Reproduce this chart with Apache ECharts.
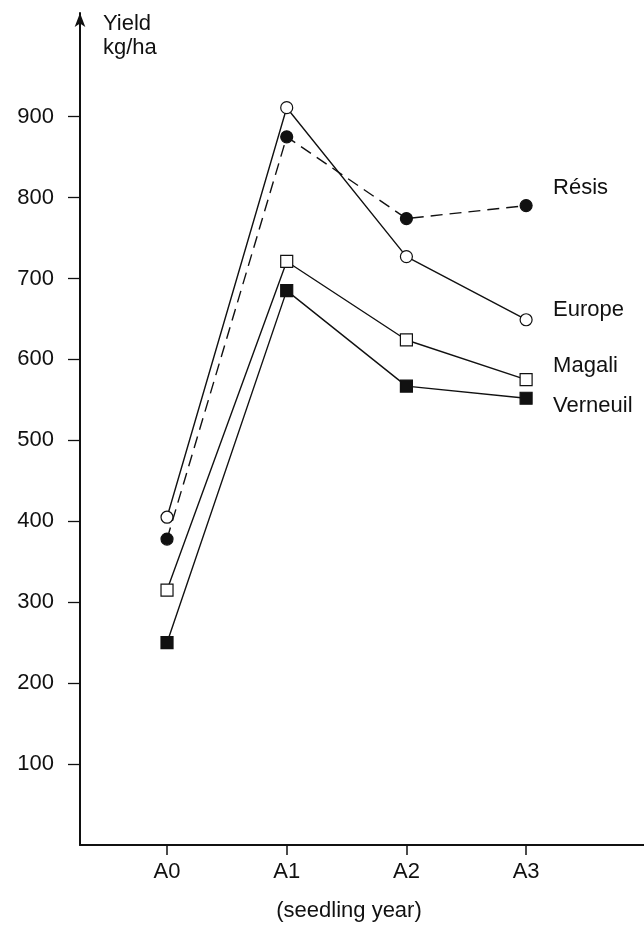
<!DOCTYPE html>
<html>
<head>
<meta charset="utf-8">
<script src="https://cdn.jsdelivr.net/npm/echarts@6/dist/echarts.min.js"></script>
<style>html,body{margin:0;padding:0;background:#fff}#c{width:644px;height:934px}</style>
</head>
<body>
<div id="c"></div>
<script>
const categories = ['A0', 'A1', 'A2', 'A3'];
const resis = [378, 875, 774, 790];
const europe = [405, 911, 727, 649];
const magali = [315, 721, 624, 575];
const verneuil = [250, 685, 567, 552];
const yTicks = [100, 200, 300, 400, 500, 600, 700, 800, 900];
const seriesNames = ['Résis', 'Europe', 'Magali', 'Verneuil'];

const FONT = 'Liberation Sans, Arial, sans-serif';
const FS = 22;
const INK = '#111';
const toPts = arr => arr.map((v, i) => [i, v]);

function mk(name, data, symbol, filled, dashed, offset) {
  return {
    name: name,
    type: 'line',
    data: toPts(data),
    symbol: symbol,
    symbolSize: 12,
    showAllSymbol: true,
    lineStyle: { color: INK, width: 1.4, type: dashed ? [12, 7] : 'solid' },
    itemStyle: { color: filled ? INK : '#fff', borderColor: INK, borderWidth: 1.2 },
    z: filled ? 3 : 2,
    endLabel: {
      show: true, formatter: name, distance: 0, offset: offset,
      color: INK, fontFamily: FONT, fontSize: FS, align: 'left', verticalAlign: 'middle'
    },
    emphasis: { disabled: true },
    animation: false
  };
}

const chart = echarts.init(document.getElementById('c'), null, { renderer: 'canvas' });
chart.setOption({
  backgroundColor: '#fff',
  animation: false,
  grid: { left: 80, right: 0, top: 13, bottom: 89, containLabel: false },
  title: {
    text: '(seedling year)', left: 344, top: 895, textAlign: 'center',
    textStyle: { fontFamily: FONT, fontSize: FS, fontWeight: 'normal', color: INK }
  },
  graphic: [{
    type: 'text', left: 103, top: 12,
    style: { text: 'Yield\nkg/ha', font: FS + 'px ' + FONT, fill: INK, lineHeight: 24 }
  }],
  xAxis: {
    type: 'value', min: -0.727, max: 3.985,
    splitLine: { show: false },
    axisLine: { onZero: false, lineStyle: { color: INK, width: 2 } },
    axisTick: { show: true, length: 10, customValues: [0, 1, 2, 3], lineStyle: { color: INK, width: 1.5 } },
    axisLabel: {
      customValues: [0, 1, 2, 3], formatter: v => categories[v] || '',
      color: INK, fontFamily: FONT, fontSize: FS, margin: 16
    }
  },
  yAxis: {
    type: 'value', min: 0, max: 1028,
    splitLine: { show: false },
    axisLine: { onZero: false, lineStyle: { color: INK, width: 2 }, symbol: ['none', 'arrow'], symbolSize: [8, 14] },
    axisTick: { show: true, length: 12, customValues: yTicks, lineStyle: { color: INK, width: 1.3 } },
    axisLabel: {
      customValues: yTicks, color: INK, fontFamily: FONT, fontSize: FS, margin: 26
    }
  },
  series: [
    mk(seriesNames[0], resis, 'circle', true, true, [27, -18]),
    mk(seriesNames[1], europe, 'circle', false, false, [27, -10]),
    mk(seriesNames[2], magali, 'rect', false, false, [27, -14]),
    mk(seriesNames[3], verneuil, 'rect', true, false, [27, 8])
  ]
});
</script>
</body>
</html>
